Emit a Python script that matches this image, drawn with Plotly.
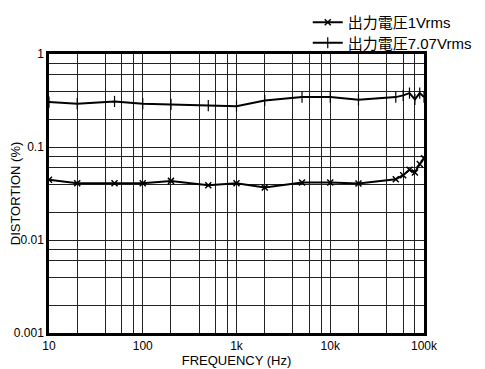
import plotly.graph_objects as go

freq = [10, 20, 50, 100, 200, 500, 1000, 2000, 5000, 10000, 20000, 50000, 60000, 70000, 80000, 90000, 100000]
dist_1v = [0.0444, 0.0408, 0.0408, 0.0408, 0.0432, 0.0388, 0.0408, 0.0367, 0.0415, 0.0415, 0.0405, 0.0451, 0.0498, 0.0569, 0.0532, 0.0655, 0.0755]
dist_707v = [0.304, 0.292, 0.309, 0.292, 0.287, 0.279, 0.275, 0.317, 0.344, 0.344, 0.322, 0.344, 0.359, 0.38, 0.325, 0.38, 0.344]

series_names = ["出力電圧1Vrms", "出力電圧7.07Vrms"]

x_grid = [10, 20, 40, 60, 80, 100, 200, 400, 600, 800, 1000, 2000, 4000, 6000, 8000,
          10000, 20000, 40000, 60000, 80000, 100000]
x_labels = {10: "10", 100: "100", 1000: "1k", 10000: "10k", 100000: "100k"}
y_grid = [0.001, 0.002, 0.004, 0.006, 0.008, 0.01, 0.02, 0.04, 0.06, 0.08,
          0.1, 0.2, 0.4, 0.6, 0.8, 1]
y_labels = {0.001: "0.001", 0.01: "0.01", 0.1: "0.1", 1: "1"}

font_family = "Liberation Sans, Arial, Noto Sans CJK JP, sans-serif"

fig = go.Figure()
fig.add_trace(go.Scatter(
    x=freq, y=dist_1v, name=series_names[0], mode="lines+markers", legend="legend",
    line=dict(color="black", width=2),
    marker=dict(symbol="x-thin", size=6, line=dict(color="black", width=1.5)),
))
fig.add_trace(go.Scatter(
    x=freq, y=dist_707v, name=series_names[1], mode="lines+markers", legend="legend2",
    line=dict(color="black", width=2),
    marker=dict(symbol="line-ns", size=8, line=dict(color="black", width=1.2)),
))

legend_style = dict(xanchor="left", yanchor="top", bgcolor="rgba(0,0,0,0)",
                    font=dict(size=15), itemwidth=30)

# page body has an 8px margin; figure sized to fill the rest of the window
fig.update_layout(
    width=477, height=361,
    margin=dict(l=41, r=61, t=46, b=36, autoexpand=False),
    paper_bgcolor="white", plot_bgcolor="white",
    font=dict(family=font_family, size=12, color="black"),
    legend=dict(x=0.69, y=1.172, **legend_style),
    legend2=dict(x=0.69, y=1.0985, **legend_style),
    showlegend=True,
)
fig.update_xaxes(
    type="log", range=[1, 5], automargin=False,
    tickvals=x_grid, ticktext=[x_labels.get(v, "") for v in x_grid],
    showgrid=True, gridcolor="#222", gridwidth=1,
    showline=True, linecolor="black", linewidth=2.5, mirror=True,
    ticks="", zeroline=False,
    title=dict(text="FREQUENCY (Hz)", standoff=4, font=dict(size=13)),
    tickfont=dict(size=12),
)
fig.update_yaxes(
    type="log", range=[-3, 0], automargin=False,
    tickvals=y_grid, ticktext=[y_labels.get(v, "") for v in y_grid],
    showgrid=True, gridcolor="#222", gridwidth=1,
    showline=True, linecolor="black", linewidth=2.5, mirror=True,
    ticks="", zeroline=False,
    title=dict(text="DISTORTION (%)", standoff=0, font=dict(size=13)),
    tickfont=dict(size=12),
)

fig.write_html("out.html")
